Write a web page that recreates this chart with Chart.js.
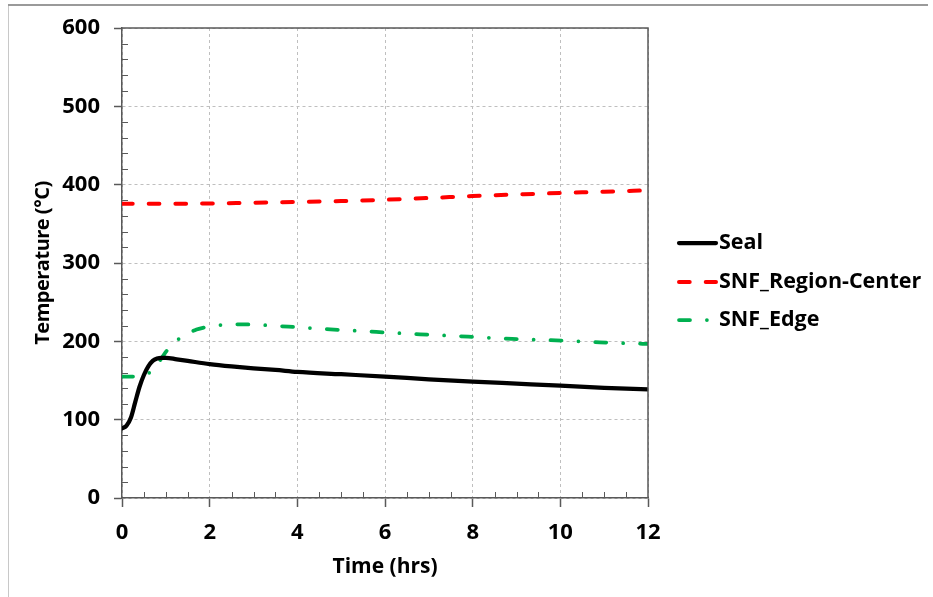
<!DOCTYPE html>
<html>
<head>
<meta charset="utf-8">
<script src="https://cdn.jsdelivr.net/npm/chart.js@4/dist/chart.umd.min.js"></script>
<style>
  html, body { margin: 0; padding: 0; background: #ffffff; }
  canvas { display: block; }
</style>
</head>
<body>
<canvas id="c" width="933" height="597"></canvas>
<script>
// ---- Data ----
const sealTime = [0, 0.1, 0.2, 0.3, 0.4, 0.5, 0.6, 0.7, 0.8, 0.9, 1.0, 1.25, 1.5, 2, 2.5, 3, 3.5, 4, 5, 6, 7, 8, 9, 10, 11, 11.5, 12];
const sealTemp = [89, 92, 102, 122, 142, 157, 168, 175, 178, 179, 179, 177, 175, 171, 168, 165.5, 163.5, 161, 158, 155, 151.5, 148.5, 146, 143.5, 140.5, 139.5, 138.8];

const centerTime = [0, 1, 2, 3, 4, 5, 6, 7, 8, 9, 10, 11, 12];
const centerTemp = [375.5, 375.5, 376, 377, 377.9, 379, 380.8, 383, 385.5, 387.5, 389.4, 391, 392.8];

const edgeTime = [0, 0.3, 0.5, 0.65, 0.87, 1.05, 1.32, 1.7, 2.0, 2.3, 2.8, 3.3, 3.8, 4.75, 5.8, 6.8, 7.9, 8.9, 9.9, 10.9, 12];
const edgeTemp = [155, 155, 157, 161, 176, 190, 204, 215, 219, 221, 221.7, 220.5, 218.7, 215.3, 212, 209, 206, 203, 201.3, 198.8, 196.6];

const seriesNames = ['Seal', 'SNF_Region-Center', 'SNF_Edge'];
const xTicks = [0, 2, 4, 6, 8, 10, 12];
const yTicks = [0, 100, 200, 300, 400, 500, 600];
const xTitle = 'Time (hrs)';
const yTitle = 'Temperature (°C)';

const pts = (xs, ys) => xs.map((x, i) => ({ x: x, y: ys[i] }));

const FONT = '"Open Sans", "DejaVu Sans", sans-serif';
const AXIS = '#595959';

const decorPlugin = {
  id: 'decor',
  beforeDraw(chart) {
    const ctx = chart.ctx;
    ctx.save();
    ctx.fillStyle = '#ffffff';
    ctx.fillRect(0, 0, chart.width, chart.height);
    // outer frame (top + left)
    ctx.strokeStyle = '#c8c8c8';
    ctx.lineWidth = 1;
    ctx.beginPath();
    ctx.moveTo(8.5, 5);
    ctx.lineTo(8.5, chart.height);
    ctx.stroke();
    ctx.strokeStyle = '#9a9a9a';
    ctx.lineWidth = 2;
    ctx.beginPath();
    ctx.moveTo(8, 5);
    ctx.lineTo(928, 5);
    ctx.stroke();
    ctx.restore();
  },
  afterDraw(chart) {
    const ctx = chart.ctx;
    const a = chart.chartArea;
    const xs = chart.scales.x, ys = chart.scales.y;
    ctx.save();
    // plot border (top, right)
    ctx.strokeStyle = AXIS;
    ctx.lineWidth = 1.5;
    ctx.beginPath();
    ctx.moveTo(a.left, a.top);
    ctx.lineTo(a.right, a.top);
    ctx.lineTo(a.right, a.bottom);
    ctx.stroke();
    // minor ticks
    ctx.lineWidth = 1;
    ctx.beginPath();
    for (let v = 0; v <= 600; v += 20) {
      if (v % 100 === 0) continue;
      const y = Math.round(ys.getPixelForValue(v)) + 0.5;
      ctx.moveTo(a.left, y);
      ctx.lineTo(a.left + 6, y);
    }
    for (let t = 0; t <= 12; t += 0.5) {
      if (t % 2 === 0) continue;
      const x = Math.round(xs.getPixelForValue(t)) + 0.5;
      ctx.moveTo(x, a.bottom);
      ctx.lineTo(x, a.bottom - 6);
    }
    ctx.stroke();
    // y title
    ctx.fillStyle = '#000000';
    ctx.font = 'bold 20px ' + FONT;
    try { ctx.letterSpacing = '-0.5px'; } catch (e) {}
    ctx.textAlign = 'center';
    ctx.textBaseline = 'middle';
    ctx.translate(43, (a.top + a.bottom) / 2);
    ctx.rotate(-Math.PI / 2);
    ctx.fillText(yTitle, 0, 0);
    ctx.restore();

    // legend
    ctx.save();
    const rows = [243, 282, 320];
    chart.data.datasets.forEach((ds, i) => {
      const y = rows[i];
      ctx.strokeStyle = ds.borderColor;
      ctx.lineWidth = ds.borderWidth;
      ctx.lineCap = 'round';
      ctx.setLineDash(ds.borderDash || []);
      ctx.beginPath();
      ctx.moveTo(679, y);
      ctx.lineTo(716, y);
      ctx.stroke();
      ctx.setLineDash([]);
      ctx.fillStyle = '#000000';
      ctx.font = 'bold 21.5px ' + FONT;
      ctx.textAlign = 'left';
      ctx.textBaseline = 'middle';
      ctx.fillText(ds.label, 719, y);
    });
    ctx.restore();
  }
};

new Chart(document.getElementById('c'), {
  type: 'line',
  data: {
    datasets: [
      {
        label: seriesNames[0],
        data: pts(sealTime, sealTemp),
        borderColor: '#000000',
        borderWidth: 4.25,
        borderCapStyle: 'round',
        cubicInterpolationMode: 'monotone',
        pointRadius: 0,
        fill: false
      },
      {
        label: seriesNames[1],
        data: pts(centerTime, centerTemp),
        borderColor: '#ff0000',
        borderWidth: 4,
        borderDash: [10.7, 16],
        borderCapStyle: 'round',
        cubicInterpolationMode: 'monotone',
        pointRadius: 0,
        fill: false
      },
      {
        label: seriesNames[2],
        data: pts(edgeTime, edgeTemp),
        borderColor: '#00b050',
        borderWidth: 3.75,
        borderDash: [11, 16.9, 0, 16.9],
        borderCapStyle: 'round',
        cubicInterpolationMode: 'monotone',
        pointRadius: 0,
        fill: false
      }
    ]
  },
  options: {
    responsive: false,
    animation: false,
    events: [],
    layout: { padding: { left: 0, top: 28, right: 285, bottom: 0 } },
    plugins: {
      legend: { display: false },
      tooltip: { enabled: false }
    },
    scales: {
      x: {
        type: 'linear',
        min: 0,
        max: 12,
        afterFit: s => { s.height = 99; },
        afterBuildTicks: s => { s.ticks = xTicks.map(v => ({ value: v })); },
        ticks: {
          color: '#000000',
          font: { family: FONT, size: 22, weight: 'bold' },
          padding: 13,
          maxRotation: 0,
          autoSkip: false
        },
        grid: {
          color: '#bfbfbf',
          lineWidth: 1,
          tickLength: 9,
          tickColor: AXIS,
          tickWidth: 1.5,
          tickBorderDash: []
        },
        border: { display: true, color: AXIS, width: 1.5, dash: [3, 3] },
        title: {
          display: true,
          text: xTitle,
          color: '#000000',
          font: { family: FONT, size: 21, weight: 'bold' },
          padding: { top: 0, bottom: 17 }
        }
      },
      y: {
        type: 'linear',
        min: 0,
        max: 600,
        afterFit: s => { s.width = 122; },
        afterBuildTicks: s => { s.ticks = yTicks.map(v => ({ value: v })); },
        ticks: {
          color: '#000000',
          font: { family: FONT, size: 22, weight: 'bold' },
          padding: 14,
          autoSkip: false
        },
        grid: {
          color: '#bfbfbf',
          lineWidth: 1,
          tickLength: 8,
          tickColor: AXIS,
          tickWidth: 1.5,
          tickBorderDash: []
        },
        border: { display: true, color: AXIS, width: 1.5, dash: [3, 3] }
      }
    }
  },
  plugins: [decorPlugin]
});
</script>
</body>
</html>
